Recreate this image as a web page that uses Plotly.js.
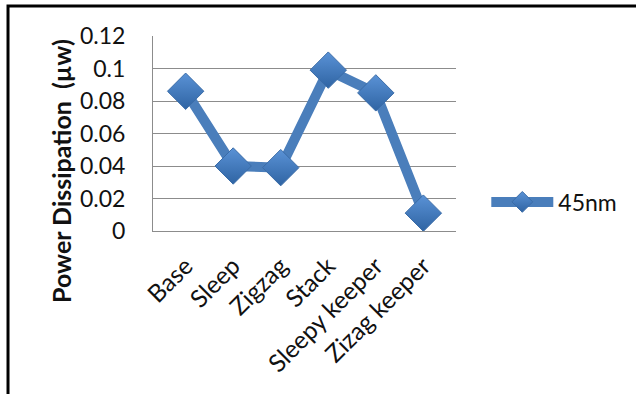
<!DOCTYPE html>
<html>
<head>
<meta charset="utf-8">
<script src="https://cdn.plot.ly/plotly-3.0.1.min.js"></script>
<style>
html, body { margin: 0; padding: 0; background: #fff; }
#chart { width: 636px; height: 394px; }
</style>
</head>
<body>
<div id="chart"></div>
<script>
var categories = ["Base", "Sleep", "Zigzag", "Stack", "Sleepy keeper", "Zizag keeper"];
var power45nm = [0.086, 0.040, 0.039, 0.099, 0.085, 0.011];
var seriesName = "45nm";
var yTickVals = [0, 0.02, 0.04, 0.06, 0.08, 0.1, 0.12];
var yTickText = ["0", "0.02", "0.04", "0.06", "0.08", "0.1", "0.12"];
var yTitle = "Power Dissipation  (\u00b5w)";

var FONT = "Lato, 'Liberation Sans', Arial, sans-serif";
var BLUE = "#4a7ebb";

var trace = {
  type: "scatter",
  mode: "lines+markers",
  x: categories,
  y: power45nm,
  name: seriesName,
  line: { color: BLUE, width: 10 },
  marker: {
    symbol: "diamond",
    size: 28,
    color: "#5a92d6",
    gradient: { type: "vertical", color: "#2f64a3" },
    line: { color: "#3a6ca8", width: 1 }
  },
  showlegend: true
};

var layout = {
  width: 636,
  height: 394,
  margin: { l: 153, r: 180, t: 36, b: 163, pad: 0 },
  paper_bgcolor: "#ffffff",
  plot_bgcolor: "#ffffff",
  font: { family: FONT, size: 23, color: "#111111" },
  xaxis: {
    type: "category",
    tickangle: -45,
    showgrid: false,
    showline: true,
    linecolor: "#8c8c8c",
    linewidth: 1,
    ticks: "",
    ticklabelstandoff: 10,
    tickfont: { family: FONT, size: 24.5, color: "#111111" },
    zeroline: false,
    fixedrange: true
  },
  yaxis: {
    range: [0, 0.12],
    tickvals: yTickVals,
    ticktext: yTickText,
    showgrid: true,
    gridcolor: "#8c8c8c",
    gridwidth: 1,
    showline: true,
    linecolor: "#8c8c8c",
    linewidth: 1,
    zeroline: false,
    ticks: "",
    ticklabelstandoff: 22,
    tickfont: { family: FONT, size: 23, color: "#111111" },
    fixedrange: true
  },
  showlegend: true,
  legend: {
    x: 1.1,
    xanchor: "left",
    y: 0.149,
    yanchor: "middle",
    itemwidth: 62,
    font: { family: FONT, size: 23, color: "#111111" },
    bgcolor: "rgba(0,0,0,0)",
    borderwidth: 0
  },
  annotations: [{
    text: "<b>" + yTitle + "</b>",
    xref: "paper", yref: "paper",
    x: -0.3036, y: 0.3077,
    xanchor: "center", yanchor: "middle",
    textangle: -90,
    showarrow: false,
    font: { family: FONT, size: 25, color: "#111111" }
  }],
  shapes: [{
    type: "rect",
    xref: "paper", yref: "paper",
    x0: -0.4785, x1: 1.62,
    y0: -0.9, y1: 1.1538,
    line: { color: "#000000", width: 3 },
    fillcolor: "rgba(0,0,0,0)",
    layer: "above"
  }]
};

Plotly.newPlot("chart", [trace], layout, { displayModeBar: false, staticPlot: true });
</script>
</body>
</html>
